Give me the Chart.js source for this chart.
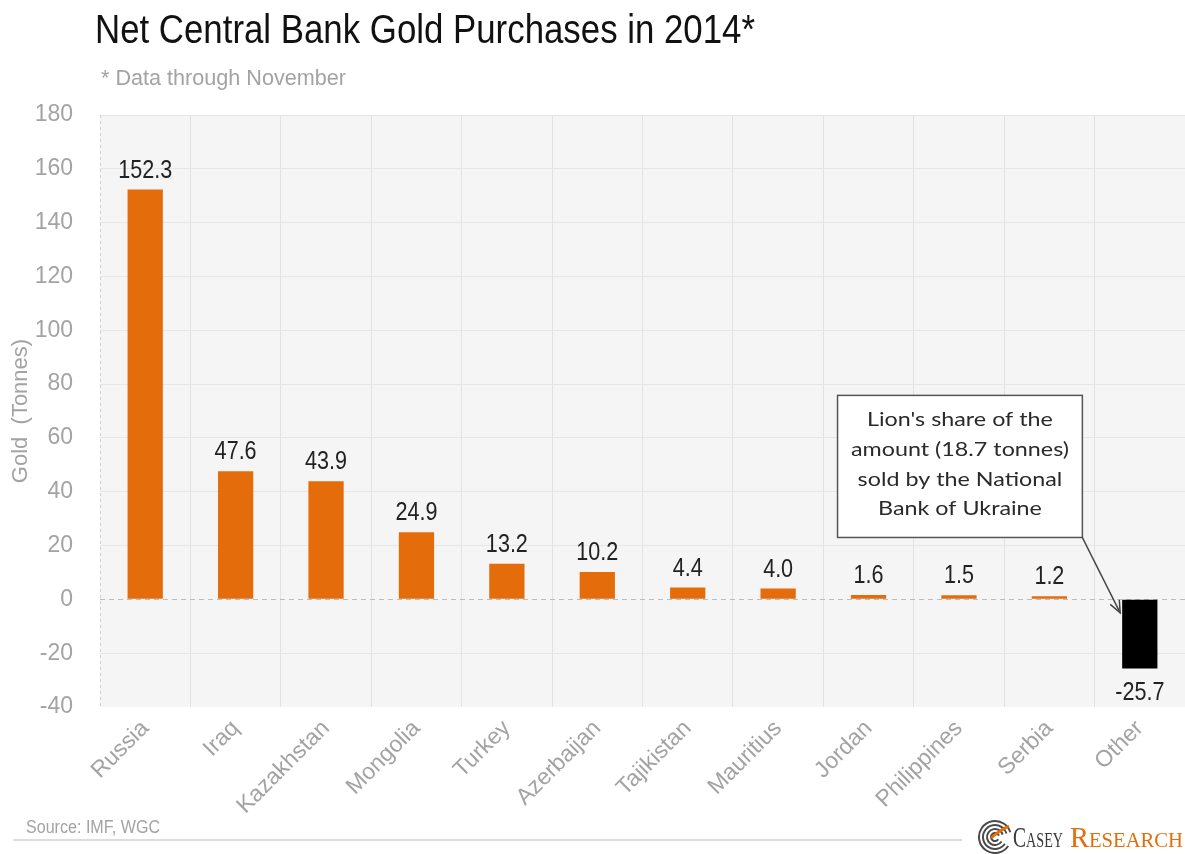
<!DOCTYPE html>
<html>
<head>
<meta charset="utf-8">
<title>Net Central Bank Gold Purchases in 2014</title>
<script src="https://cdn.jsdelivr.net/npm/chart.js@4.4.1/dist/chart.umd.min.js"></script>
<style>
    html, body { margin: 0; padding: 0; background: #fff; }
    #wrap { width: 1185px; height: 854px; }
</style>
</head>
<body>
<div id="wrap"><canvas id="goldChart" width="1185" height="854"></canvas></div>
<script>
// Chart data
const categories = ['Russia', 'Iraq', 'Kazakhstan', 'Mongolia', 'Turkey', 'Azerbaijan',
    'Tajikistan', 'Mauritius', 'Jordan', 'Philippines', 'Serbia', 'Other'];
const purchases = [152.3, 47.6, 43.9, 24.9, 13.2, 10.2, 4.4, 4.0, 1.6, 1.5, 1.2, -25.7];
const yMin = -40;
const yMax = 180;
const yStep = 20;

const calloutLines = ["Lion's share of the", 'amount (18.7 tonnes)', 'sold by the National', 'Bank of Ukraine'];

const ORANGE = '#E46C0A';
const GREY_TEXT = '#a3a3a3';
const SANS = '"Liberation Sans Narrow", "Liberation Sans", Arial, sans-serif';
const WIDE = '"Liberation Sans", Arial, sans-serif';
const SERIF = '"Liberation Serif", serif';

const barColors = purchases.map(v => v < 0 ? '#000000' : ORANGE);

// draw text squeezed horizontally by a factor
function narrowText(ctx, text, x, y, font, sx, align) {
    ctx.save();
    ctx.font = font;
    ctx.textAlign = align || 'left';
    ctx.translate(x, y);
    ctx.scale(sx, 1);
    ctx.fillText(text, 0, 0);
    ctx.restore();
}

// draw text scaled to a given width
function fitText(ctx, text, x, y, font, width, align) {
    ctx.save();
    ctx.font = font;
    const w = ctx.measureText(text).width;
    ctx.restore();
    narrowText(ctx, text, x, y, font, width / w, align);
}

// small caps word (big first letter) squeezed into a width
function smallCaps(ctx, word, x, y, width, color) {
    const first = word[0], rest = word.slice(1);
    ctx.save();
    ctx.font = '29px ' + SERIF;
    const w1 = ctx.measureText(first).width;
    ctx.font = '21px ' + SERIF;
    const w2 = ctx.measureText(rest).width;
    const sx = width / (w1 + w2);
    ctx.fillStyle = color;
    ctx.translate(x, y);
    ctx.scale(sx, 1);
    ctx.font = '29px ' + SERIF;
    ctx.fillText(first, 0, 0);
    ctx.font = '21px ' + SERIF;
    ctx.fillText(rest, w1, 0);
    ctx.restore();
}

const extrasPlugin = {
    id: 'extras',
    beforeDraw: function (chart) {
        const { ctx, chartArea } = chart;
        ctx.save();
        ctx.fillStyle = '#f5f5f5';
        ctx.fillRect(chartArea.left, chartArea.top, chartArea.right - chartArea.left, chartArea.bottom - chartArea.top);
        ctx.restore();
    },
    beforeDatasetsDraw: function (chart) {
        const { ctx, chartArea } = chart;
        const y0 = Math.round(chart.scales.y.getPixelForValue(0)) + 0.5;
        ctx.save();
        ctx.lineWidth = 1;
        // dashed zero line
        ctx.strokeStyle = '#bdbdbd';
        ctx.setLineDash([5, 4]);
        ctx.beginPath();
        ctx.moveTo(chartArea.left, y0);
        ctx.lineTo(chartArea.right, y0);
        ctx.stroke();
        // dashed left edge
        ctx.strokeStyle = '#d0d0d0';
        ctx.setLineDash([3, 3]);
        ctx.beginPath();
        ctx.moveTo(chartArea.left + 0.5, chartArea.top);
        ctx.lineTo(chartArea.left + 0.5, chartArea.bottom);
        ctx.stroke();
        ctx.restore();
    },
    afterDraw: function (chart) {
        const ctx = chart.ctx;
        const xScale = chart.scales.x;
        const yScale = chart.scales.y;
        const meta = chart.getDatasetMeta(0);

        // title + subtitle
        ctx.fillStyle = '#111111';
        ctx.textBaseline = 'alphabetic';
        fitText(ctx, 'Net Central Bank Gold Purchases in 2014*', 95, 43, '40px ' + WIDE, 660);
        ctx.fillStyle = GREY_TEXT;
        fitText(ctx, '* Data through November', 101, 85, '22px ' + WIDE, 245);

        // value labels
        ctx.fillStyle = '#222222';
        meta.data.forEach((bar, i) => {
            const v = purchases[i];
            const txt = v.toFixed(1);
            if (v >= 0) {
                narrowText(ctx, txt, bar.x, bar.y - 12, '26px ' + WIDE, 0.83, 'center');
            } else {
                narrowText(ctx, txt, bar.x, bar.y + 31, '26px ' + WIDE, 0.83, 'center');
            }
        });

        // callout box
        const boxL = xScale.getPixelForValue(8) - 31;
        const boxR = xScale.getPixelForValue(10) + 33;
        const boxT = yScale.getPixelForValue(75.8);
        const boxB = yScale.getPixelForValue(23);
        ctx.save();
        ctx.fillStyle = '#ffffff';
        ctx.fillRect(boxL, boxT, boxR - boxL, boxB - boxT);
        ctx.strokeStyle = '#555555';
        ctx.lineWidth = 1.5;
        ctx.strokeRect(boxL, boxT, boxR - boxL, boxB - boxT);
        ctx.fillStyle = '#2a2a2a';
        const cx = (boxL + boxR) / 2;
        const cFont = '20px Lato, "Open Sans", sans-serif';
        ctx.font = cFont;
        const sx = 218 / ctx.measureText(calloutLines[1]).width;
        calloutLines.forEach((line, i) => {
            narrowText(ctx, line, cx, boxT + 31 + i * 29.7, cFont, sx, 'center');
        });

        // arrow to the "Other" bar
        const other = meta.data[meta.data.length - 1];
        const tipX = other.x - other.width / 2 - 2;
        const tipY = yScale.getPixelForValue(-5);
        ctx.strokeStyle = '#444444';
        ctx.lineWidth = 1.5;
        ctx.beginPath();
        ctx.moveTo(boxR, boxB);
        ctx.lineTo(tipX, tipY);
        ctx.stroke();
        const ang = Math.atan2(tipY - boxB, tipX - boxR);
        ctx.beginPath();
        ctx.moveTo(tipX - 13 * Math.cos(ang - 0.4), tipY - 13 * Math.sin(ang - 0.4));
        ctx.lineTo(tipX, tipY);
        ctx.lineTo(tipX - 13 * Math.cos(ang + 0.4), tipY - 13 * Math.sin(ang + 0.4));
        ctx.stroke();
        ctx.restore();

        // source + rule
        ctx.fillStyle = GREY_TEXT;
        fitText(ctx, 'Source: IMF, WGC', 26, 833, '19px ' + WIDE, 134);
        ctx.save();
        ctx.strokeStyle = '#dddddd';
        ctx.lineWidth = 2;
        ctx.beginPath();
        ctx.moveTo(13, 840);
        ctx.lineTo(962, 840);
        ctx.stroke();

        // logo
        ctx.strokeStyle = '#4a4a4a';
        ctx.lineWidth = 2;
        [4, 8, 12, 16].forEach(r => {
            ctx.beginPath();
            ctx.arc(995, 837, r, 0.6, Math.PI * 2 - 0.3);
            ctx.stroke();
        });
        ctx.strokeStyle = ORANGE;
        ctx.lineWidth = 3;
        ctx.beginPath();
        ctx.moveTo(991, 838);
        ctx.quadraticCurveTo(1000, 830, 1009, 826);
        ctx.stroke();
        ctx.restore();

        smallCaps(ctx, 'CASEY', 1013, 847, 50, '#3a3a3a');
        smallCaps(ctx, 'RESEARCH', 1070, 847, 113, ORANGE);
    }
};

const ctx = document.getElementById('goldChart').getContext('2d');
new Chart(ctx, {
    type: 'bar',
    data: {
        labels: categories,
        datasets: [{
            data: purchases,
            backgroundColor: barColors,
            borderWidth: 0,
            barPercentage: 0.39,
            categoryPercentage: 1
        }]
    },
    options: {
        responsive: false,
        animation: false,
        layout: { padding: { top: 115, left: 0, right: 0, bottom: 0 } },
        plugins: {
            legend: { display: false },
            tooltip: { enabled: false }
        },
        scales: {
            x: {
                grid: {
                    offset: true,
                    drawTicks: false,
                    color: c => c.index === 0 ? 'rgba(0,0,0,0)' : '#e2e2e2'
                },
                border: { display: false },
                ticks: {
                    color: GREY_TEXT,
                    font: { family: SANS, size: 23 },
                    maxRotation: 45,
                    minRotation: 45,
                    autoSkip: false,
                    padding: 8
                },
                afterFit: s => { s.height = 147; }
            },
            y: {
                min: yMin,
                max: yMax,
                ticks: {
                    stepSize: yStep,
                    color: GREY_TEXT,
                    font: { family: SANS, size: 23 },
                    padding: 27
                },
                grid: {
                    drawTicks: false,
                    color: c => (c.tick && (c.tick.value === 0 || c.tick.value === yMin)) ? 'rgba(0,0,0,0)' : '#e6e6e6'
                },
                border: { display: false },
                title: {
                    display: true,
                    text: 'Gold  (Tonnes)',
                    color: GREY_TEXT,
                    font: { family: SANS, size: 22 },
                    padding: { top: 8, bottom: 0 }
                },
                afterFit: s => { s.width = 100; }
            }
        }
    },
    plugins: [extrasPlugin]
});
</script>
</body>
</html>
